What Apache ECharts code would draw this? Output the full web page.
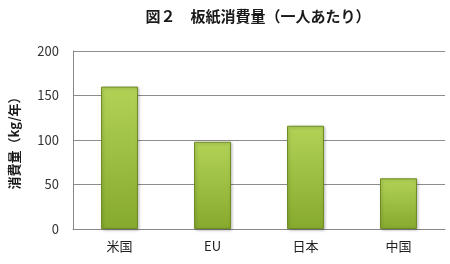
<!DOCTYPE html>
<html><head><meta charset="utf-8">
<script src="https://cdn.jsdelivr.net/npm/echarts@6/dist/echarts.min.js"></script>
<style>html,body{margin:0;padding:0;background:#fff}#c{width:450px;height:264px}</style>
</head><body><div id="c"></div>
<script>
const categories = ['米国', 'EU', '日本', '中国'];
const values = [160, 98, 116, 57];
const yTicks = [0, 50, 100, 150, 200];
const titleText = '図２　板紙消費量（一人あたり）';
const yName = '消費量（kg/年）';

const chart = echarts.init(document.getElementById('c'));
chart.setOption({
  animation: false,
  textStyle: { fontFamily: '"Noto Sans CJK JP", sans-serif' },
  title: {
    text: titleText, left: 253, top: 4, textAlign: 'center',
    textStyle: { fontSize: 15, fontWeight: 'bold', color: '#1a1a1a', fontFamily: '"Noto Sans CJK JP", sans-serif' }
  },
  grid: { left: 71, right: 5, top: 51, bottom: 35 },
  xAxis: {
    type: 'category', data: categories,
    axisLine: { show: true, lineStyle: { color: '#888' } },
    axisTick: { show: false },
    axisLabel: { color: '#222', fontSize: 13, margin: 11 }
  },
  yAxis: {
    type: 'value', min: yTicks[0], max: yTicks[yTicks.length - 1], interval: 50,
    name: yName, nameLocation: 'middle', nameGap: 52, nameRotate: 90,
    nameTextStyle: { fontSize: 13, fontWeight: 'bold', color: '#1a1a1a' },
    axisLine: { show: true, lineStyle: { color: '#888' } },
    axisTick: { show: false },
    axisLabel: { color: '#333', fontSize: 13, margin: 14 },
    splitLine: { lineStyle: { color: '#8c8c8c', width: 1 } }
  },
  series: [{
    type: 'bar', data: values, barWidth: 37,
    itemStyle: {
      color: new echarts.graphic.LinearGradient(0, 0, 0, 1, [
        { offset: 0, color: '#b2d256' },
        { offset: 1, color: '#86aa2e' }
      ]),
      borderColor: '#6f8d22', borderWidth: 1,
      shadowColor: 'rgba(0,0,0,0.25)', shadowBlur: 3, shadowOffsetX: 1, shadowOffsetY: 1
    }
  }]
});
</script></body></html>
